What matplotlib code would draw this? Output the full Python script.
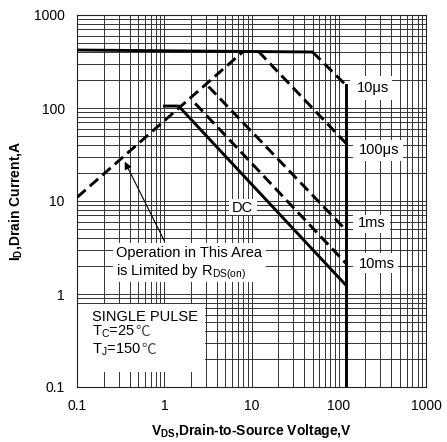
import matplotlib
matplotlib.use("Agg")
import matplotlib.pyplot as plt
from matplotlib.patches import Rectangle

plt.rcParams["font.family"] = ["Liberation Sans", "DejaVu Sans"]
plt.rcParams["mathtext.fontset"] = "custom"
plt.rcParams["mathtext.rm"] = "Liberation Sans"
plt.rcParams["mathtext.bf"] = "Liberation Sans:bold"
plt.rcParams["mathtext.it"] = "Liberation Sans:italic"

# safe operating area (V, A)
current_limit_v = [0.1, 50]
current_limit_i = [420, 400]
us10_v = [50, 120]
us10_i = [400, 177]
vds_max_v = [120, 120]
vds_max_i = [177, 0.1]
rds_v = [0.1, 8]
rds_i = [11, 405]
us100_v = [12, 120]
us100_i = [405, 42]
ms1_v = [3.2, 120]
ms1_i = [170, 4.9]
ms10_v = [2.25, 120]
ms10_i = [112, 2.15]
dc_v = [1.0, 1.45, 120]
dc_i = [105, 105, 1.25]

ticks = [0.1, 1, 10, 100, 1000]
tick_labels = ["0.1", "1", "10", "100", "1000"]

fig = plt.figure(figsize=(4.47, 4.42), dpi=100)
ax = fig.add_axes([77.3 / 447, 55 / 442, 348.7 / 447, 372 / 442])
ax.set_xscale("log")
ax.set_yscale("log")
ax.set_xlim(0.1, 1000)
ax.set_ylim(0.1, 1000)
ax.set_xticks(ticks, tick_labels)
ax.set_yticks(ticks, tick_labels)
ax.tick_params(which="both", length=0, labelsize=10)
ax.tick_params(axis="x", pad=9)
ax.tick_params(axis="y", pad=9)
ax.grid(True, which="both", color="#333333", linewidth=0.7)
for sp in ax.spines.values():
    sp.set_color("#222222")
    sp.set_linewidth(0.8)


# white boxes behind the labels, given in picture pixels
def px_box(x0, x1, y0, y1):
    fx0 = (x0 - 77.3) / 348.7
    fx1 = (x1 - 77.3) / 348.7
    fy0 = (387 - y1) / 372
    fy1 = (387 - y0) / 372
    ax.add_patch(Rectangle((fx0, fy0), fx1 - fx0, fy1 - fy0, transform=ax.transAxes,
                           facecolor="white", edgecolor="none", zorder=2))


px_box(350, 392, 76, 100)     # 10us
px_box(353, 403, 140, 161)    # 100us
px_box(353, 390, 215, 233)    # 1ms
px_box(353, 398, 253, 273)    # 10ms
px_box(229, 257, 199, 215)    # DC
px_box(113, 266, 243, 282)    # operation note
px_box(77.3, 205, 304, 372)   # single pulse

thick = 2.1
dash = (3.8, 1.9)
ax.plot(current_limit_v, current_limit_i, color="black", lw=thick, zorder=3)
ax.plot(vds_max_v, vds_max_i, color="black", lw=thick, zorder=3)
ax.plot(dc_v, dc_i, color="black", lw=thick, zorder=3)
for v, i in [(us10_v, us10_i), (rds_v, rds_i), (us100_v, us100_i),
             (ms1_v, ms1_i), (ms10_v, ms10_i)]:
    ax.plot(v, i, color="black", lw=thick, ls=(0, dash), zorder=3)

fs = 10.5
ax.text(248, 163, "10μs", fontsize=fs, ha="center", va="center", zorder=4)
ax.text(290, 35, "100μs", fontsize=fs, ha="center", va="center", zorder=4)
ax.text(238, 5.75, "1ms", fontsize=fs, ha="center", va="center", zorder=4)
ax.text(275, 2.1, "10ms", fontsize=fs, ha="center", va="center", zorder=4)
ax.text(7.9, 8.5, "DC", fontsize=fs, ha="center", va="center", zorder=4)

ax.text(0.28, 2.76, "Operation in This Area", fontsize=fs, ha="left", va="center", zorder=4)
ax.text(0.28, 1.73, r"is Limited by R$_{\mathrm{DS(on)}}$", fontsize=fs, ha="left",
        va="center", zorder=4)
ax.annotate("", xy=(0.35, 26.5), xytext=(1.0, 3.7),
            arrowprops=dict(arrowstyle="-|>", color="black", lw=0.8,
                            mutation_scale=11, shrinkA=0, shrinkB=0), zorder=4)

ax.text(0.146, 0.566, "SINGLE PULSE", fontsize=fs, ha="left", va="center", zorder=4)
for y, sub, val in [(0.353, "C", "=25"), (0.226, "J", "=150")]:
    t = ax.text(0.146, y, "T$_{\\mathrm{" + sub + "}}$" + val, fontsize=fs,
                ha="left", va="baseline", zorder=4)
    # the degree sign sits right after the value, on the same baseline
    ax.annotate("℃", xy=(1, y), xycoords=(t, "data"), xytext=(0.5, 0),
                textcoords="offset points", fontsize=fs, ha="left", va="baseline",
                family=["Noto Sans CJK SC", "DejaVu Sans"], color="#444444",
                annotation_clip=False, zorder=4)

ax.set_xlabel(r"V$_{\mathbf{DS}}$,Drain-to-Source Voltage,V", fontsize=10,
              fontweight="bold", labelpad=6)
ax.set_ylabel(r"I$_{\mathbf{D}}$,Drain Current,A", fontsize=10,
              fontweight="bold", labelpad=7)

fig.savefig("out.png", dpi=100)
